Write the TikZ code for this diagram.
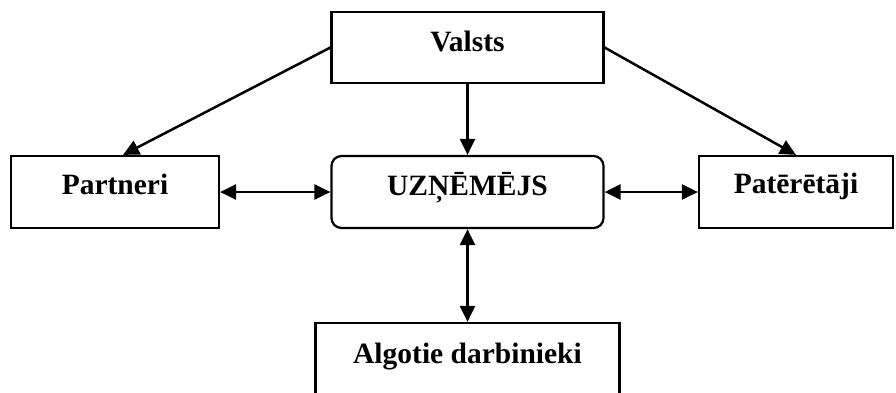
\documentclass[tikz,border=0pt]{standalone}
\usepackage{fontspec}
\setmainfont{Liberation Serif}
\usetikzlibrary{arrows.meta}
\begin{document}
\begin{tikzpicture}[x=1pt,y=-1pt,
  box/.style={draw=black, line width=2.2pt, fill=white, inner sep=0pt},
  rbox/.style={box, rounded corners=10pt},
  lbl/.style={font=\fontsize{29.5}{34}\selectfont\bfseries, anchor=base, inner sep=0pt},
  conn/.style={line width=2.5pt, -{Triangle[length=16pt,width=15pt]}},
  bconn/.style={line width=2.5pt, {Triangle[length=16pt,width=15pt]}-{Triangle[length=16pt,width=15pt]}}]
\useasboundingbox (0,0) rectangle (896,392);
\node[box, minimum width=272pt, minimum height=71pt] (v) at (467.5,47.5) {};
\node[lbl] (vt) at (467.5,51) {Valsts};
\node[box, minimum width=208pt, minimum height=72pt] (p) at (115,192) {};
\node[lbl] (ptx) at (115,194) {Partneri};
\node[rbox, minimum width=272pt, minimum height=72pt] (u) at (467.5,192) {};
\node[lbl] (ut) at (467.5,195) {UZŅĒMĒJS};
\node[box, minimum width=194pt, minimum height=72pt] (c) at (796,192) {};
\node[lbl] (ct) at (796,193) {Patērētāji};
\node[box, minimum width=304pt, minimum height=80pt] (a) at (467.5,363) {};
\node[lbl] (at) at (467.5,363) {Algotie darbinieki};
\draw[conn] (v.west) -- ([xshift=8pt]p.north);
\draw[conn] (v.east) -- (c.north);
\draw[conn] (v.south) -- (u.north);
\draw[bconn] (p.east) -- (u.west);
\draw[bconn] (u.east) -- (c.west);
\draw[bconn] (u.south) -- (a.north);
\end{tikzpicture}
\end{document}
